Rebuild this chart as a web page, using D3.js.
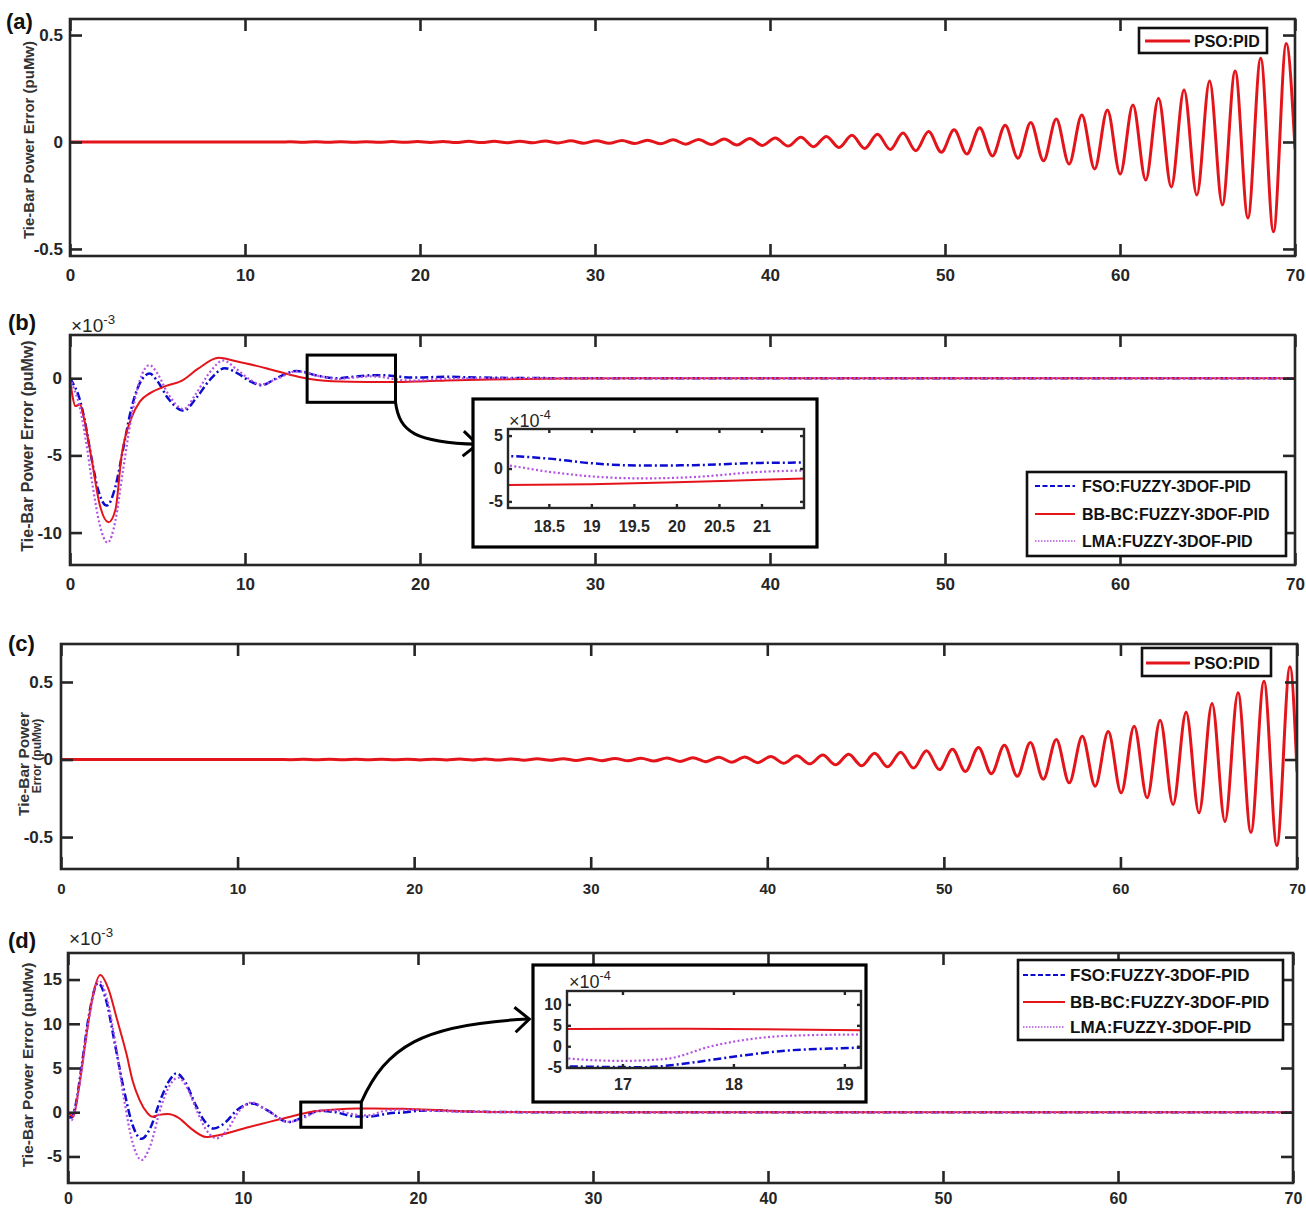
<!DOCTYPE html>
<html><head><meta charset="utf-8">
<script src="https://cdn.jsdelivr.net/npm/d3@7"></script>
<style>
body{margin:0;background:#fff}
svg{display:block}
text{font-family:"Liberation Sans",Arial,Helvetica,sans-serif}
</style>
</head><body>
<svg id="c" width="1306" height="1210"></svg>
<script>
// ---------------- DATA ----------------
const xTicks = [0,10,20,30,40,50,60,70];
const yTicksA = [-0.5,0,0.5];
const yTicksB = [-10,-5,0];          // x1e-3
const yTicksC = [-0.5,0,0.5];
const yTicksD = [-5,0,5,10,15];      // x1e-3
const insetXTicksB = [18.5,19,19.5,20,20.5,21];
const insetYTicksB = [-0.5,0,0.5];   // x1e-3 (shown as x1e-4)
const insetXTicksD = [17,18,19];
const insetYTicksD = [-0.5,0,0.5,1.0]; // x1e-3 (shown as x1e-4)
const legendPSO = ["PSO:PID"];
const legend3 = ["FSO:FUZZY-3DOF-PID","BB-BC:FUZZY-3DOF-PID","LMA:FUZZY-3DOF-PID"];

// (a) PSO:PID  [time s, error puMw] — extrema
const psoA = [[0,0],[12,0],
[12.56,0.001],[13.29,-0.001],[14.02,0.0011],[14.75,-0.0011],[15.48,0.0013],[16.21,-0.0013],
[16.94,0.0015],[17.67,-0.0015],[18.4,0.0018],[19.13,-0.0017],[19.86,0.0021],[20.59,-0.002],
[21.32,0.0025],[22.05,-0.0024],[22.78,0.0029],[23.51,-0.0028],[24.24,0.0034],[24.97,-0.0033],
[25.7,0.0039],[26.43,-0.0038],[27.16,0.0046],[27.89,-0.0045],[28.62,0.0054],[29.35,-0.0053],
[30.08,0.0063],[30.81,-0.0062],[31.54,0.0074],[32.27,-0.0073],[33.0,0.0087],[33.73,-0.0086],
[34.46,0.010],[35.19,-0.010],[35.92,0.012],[36.65,-0.012],[37.38,0.014],[38.11,-0.014],
[38.84,0.016],[39.57,-0.016],[40.3,0.019],[41.03,-0.019],[41.76,0.022],[42.49,-0.022],
[43.22,0.026],[43.95,-0.026],[44.68,0.031],[45.41,-0.030],[46.14,0.036],[46.87,-0.035],
[47.6,0.042],[48.33,-0.041],[49.06,0.049],[49.79,-0.048],[50.52,0.057],[51.25,-0.056],
[51.98,0.067],[52.71,-0.065],[53.44,0.078],[54.17,-0.076],[54.9,0.091],[55.63,-0.088],
[56.36,0.107],[57.09,-0.103],[57.82,0.126],[58.55,-0.126],[59.28,0.150],[60.01,-0.150],
[60.74,0.173],[61.47,-0.178],[62.2,0.205],[62.93,-0.21],[63.66,0.243],[64.39,-0.248],
[65.12,0.285],[65.85,-0.294],[66.58,0.332],[67.31,-0.355],[68.04,0.392],[68.77,-0.42],
[69.5,0.46],[70,-0.03]];

// (c) PSO:PID
const psoC = [[0,0],[11.5,0],
[12.27,0.0009],[13.0,-0.001],[13.74,0.001],[14.47,-0.0012],[15.21,0.0012],[15.94,-0.0014],
[16.68,0.0014],[17.41,-0.0016],[18.15,0.0017],[18.88,-0.0019],[19.62,0.002],[20.35,-0.0023],
[21.09,0.0023],[21.82,-0.0027],[22.56,0.0027],[23.29,-0.0032],[24.03,0.0032],[24.76,-0.0037],
[25.5,0.0038],[26.23,-0.0044],[26.97,0.0045],[27.7,-0.0052],[28.44,0.0053],[29.17,-0.0062],
[29.91,0.0063],[30.64,-0.0073],[31.38,0.0074],[32.11,-0.0086],[32.85,0.0088],[33.58,-0.010],
[34.32,0.010],[35.05,-0.012],[35.79,0.012],[36.52,-0.014],[37.26,0.015],[37.99,-0.017],
[38.73,0.017],[39.46,-0.020],[40.2,0.020],[40.93,-0.024],[41.67,0.024],[42.4,-0.028],
[43.14,0.029],[43.87,-0.034],[44.61,0.034],[45.34,-0.040],[46.08,0.040],[46.81,-0.047],
[47.55,0.047],[48.28,-0.055],[49.02,0.056],[49.75,-0.065],[50.49,0.066],[51.22,-0.077],
[51.96,0.078],[52.69,-0.091],[53.43,0.092],[54.16,-0.108],[54.9,0.109],[55.63,-0.127],
[56.37,0.129],[57.1,-0.15],[57.84,0.15],[58.57,-0.172],[59.31,0.18],[60.04,-0.215],
[60.78,0.215],[61.51,-0.247],[62.25,0.254],[62.98,-0.29],[63.72,0.305],[64.45,-0.344],
[65.19,0.361],[65.92,-0.40],[66.66,0.43],[67.39,-0.47],[68.13,0.505],[68.86,-0.555],
[69.6,0.598],[70,-0.075]];

// (b) values in units of 1e-3 puMw
const fsoB = [[0,0],[0.2,-0.4],[0.45,-1.0],[0.8,-2.5],[1.2,-5.0],[1.6,-7.2],[2.1,-8.25],[2.6,-7.0],
[3.0,-4.8],[3.5,-2.0],[4.0,-0.3],[4.55,0.3],[5.0,-0.2],[5.6,-1.3],[6.5,-2.1],[7.2,-1.3],[8.0,-0.1],
[8.85,0.65],[9.6,0.3],[10.3,-0.2],[10.95,-0.45],[11.8,0],[12.95,0.47],[14.2,0.15],[15.3,0.0],
[16.2,0.1],[17.4,0.2],[18.0,0.19],[18.5,0.15],[19.0,0.08],[19.6,0.045],[20.2,0.05],[21.0,0.085],
[21.6,0.09],[22.5,0.07],[25,0.02],[30,0],[70,0]];
const bbbcB = [[0,0],[0.15,-1.2],[0.3,-1.8],[0.57,-1.7],[0.8,-2.6],[1.2,-5.0],[1.7,-8.2],[2.2,-9.33],
[2.6,-8.5],[2.95,-5.0],[3.5,-2.6],[4.0,-1.5],[4.6,-0.95],[5.5,-0.5],[6.4,-0.15],[7.3,0.6],[8.5,1.32],
[9.5,1.1],[11.2,0.65],[13.1,0.08],[15.0,-0.2],[17,-0.25],[18.0,-0.25],[19,-0.24],[20,-0.21],
[21,-0.17],[21.5,-0.15],[24,-0.08],[28,-0.02],[32,0],[70,0]];
const lmaB = [[0,0],[0.2,-0.6],[0.5,-1.6],[0.9,-4.0],[1.3,-7.0],[1.7,-9.5],[2.15,-10.65],[2.6,-9.2],
[3.0,-6.2],[3.5,-2.6],[4.0,-0.1],[4.55,0.85],[5.0,0.3],[5.6,-1.0],[6.5,-2.0],[7.2,-1.0],[8.0,0.4],
[8.75,1.15],[9.5,0.6],[10.3,-0.1],[10.9,-0.4],[11.8,-0.05],[12.95,0.45],[14.2,0.15],[15.3,-0.05],
[16.3,0.05],[17.2,0.12],[18.0,0.05],[18.5,-0.05],[19.0,-0.12],[19.6,-0.15],[20.2,-0.13],[21.0,-0.05],
[21.5,-0.03],[23,0],[30,0],[70,0]];

// (d) values in units of 1e-3 puMw
const fsoD = [[0,-0.5],[0.2,-0.6],[0.4,0.5],[0.8,5.5],[1.2,11.0],[1.72,14.6],[2.2,12.5],[2.7,7.5],
[3.2,2.5],[3.7,-1.5],[4.2,-3.0],[4.7,-1.8],[5.3,1.5],[5.8,3.6],[6.2,4.4],[6.7,3.4],[7.3,0.8],
[7.8,-1.0],[8.3,-1.85],[8.9,-1.3],[9.7,0.3],[10.5,1.0],[11.4,0.2],[12.6,-1.1],[13.5,-0.5],
[14.3,0.15],[15.3,0.0],[16.0,-0.35],[16.5,-0.48],[17.2,-0.5],[17.6,-0.4],[18.0,-0.25],[18.5,-0.1],
[19.15,-0.03],[20,0.15],[21,0.2],[22.5,0.1],[25,0.02],[28,0],[70,0]];
const bbbcD = [[0,0],[0.15,-0.3],[0.3,-0.5],[0.6,2.5],[1.0,8.0],[1.4,13.0],[1.85,15.5],[2.3,14.0],
[2.8,10.5],[3.34,6.6],[3.7,3.5],[4.1,1.35],[4.5,0.0],[4.8,-0.5],[5.2,-0.3],[5.7,-0.2],[6.3,-0.6],
[7.0,-1.8],[7.9,-2.8],[8.6,-2.6],[10.3,-1.7],[12.2,-0.75],[14.1,0.1],[15.5,0.35],[16.5,0.41],
[17.5,0.42],[18.5,0.4],[19.15,0.38],[20,0.33],[22,0.15],[25,0.03],[28,0],[70,0]];
const lmaD = [[0,-0.6],[0.2,-0.9],[0.4,0.2],[0.8,5.0],[1.2,10.5],[1.75,14.9],[2.2,13.0],[2.7,8.0],
[3.2,1.5],[3.7,-3.5],[4.2,-5.4],[4.7,-3.8],[5.3,0.5],[5.8,3.0],[6.3,3.9],[6.8,2.8],[7.4,0.0],
[7.9,-2.0],[8.5,-2.95],[9.1,-2.0],[9.8,0.2],[10.5,1.1],[11.4,0.2],[12.6,-1.1],[13.5,-0.6],
[14.5,0.2],[15.4,0.2],[16.0,-0.1],[16.5,-0.29],[17.0,-0.35],[17.4,-0.3],[17.8,0.0],[18.5,0.25],
[19.15,0.28],[20,0.25],[21,0.15],[23,0.05],[26,0],[70,0]];

// ---------------- STYLE ----------------
const INK = '#262626';
const RED = '#e4141b', BLUE = '#0c0cd0', PURPLE = '#b452e4';
const DASHDOT = '8,3,2,3', DOT = '2,2.4';
const svg = d3.select('#c');
const defs = svg.append('defs');

function styleAxis(a, w, fs){
  a.select('.domain').remove();
  a.selectAll('line').attr('stroke', INK).attr('stroke-width', w);
  a.selectAll('text').attr('font-size', fs).attr('font-weight','bold').attr('fill', INK);
}

function drawPanel(p){
  const x = d3.scaleLinear().domain(p.xDom).range([p.left, p.right]);
  const y = d3.scaleLinear().domain(p.yDom).range([p.bottom, p.top]);
  const g = svg.append('g');
  const cid = 'clip-' + p.id;
  defs.append('clipPath').attr('id', cid).append('rect')
    .attr('x', p.left).attr('y', p.top).attr('width', p.right - p.left).attr('height', p.bottom - p.top);
  const line = d3.line().x(d => x(d[0])).y(d => y(d[1])).curve(d3.curveMonotoneX);
  p.series.forEach(s => {
    g.append('path').datum(s.data).attr('d', line).attr('fill','none')
      .attr('stroke', s.color).attr('stroke-width', s.width)
      .attr('stroke-dasharray', s.dash || null)
      .attr('stroke-linejoin','round').attr('stroke-linecap', s.dash ? 'butt' : 'round')
      .attr('clip-path', `url(#${cid})`);
  });
  const T = p.tick, W = p.axisW;
  styleAxis(g.append('g').attr('transform', `translate(0,${p.bottom})`)
    .call(d3.axisBottom(x).tickValues(p.xTicks).tickSizeInner(-T).tickSizeOuter(0)
      .tickPadding(p.xPad).tickFormat(p.xFmt)), W, p.xFs);
  styleAxis(g.append('g').attr('transform', `translate(0,${p.top})`)
    .call(d3.axisTop(x).tickValues(p.xTicks).tickSizeInner(-T).tickSizeOuter(0).tickFormat(() => '')), W, 0);
  styleAxis(g.append('g').attr('transform', `translate(${p.left},0)`)
    .call(d3.axisLeft(y).tickValues(p.yTicks).tickSizeInner(-T).tickSizeOuter(0)
      .tickPadding(p.yPad).tickFormat(p.yFmt)), W, p.yFs);
  styleAxis(g.append('g').attr('transform', `translate(${p.right},0)`)
    .call(d3.axisRight(y).tickValues(p.yTicks).tickSizeInner(-T).tickSizeOuter(0).tickFormat(() => '')), W, 0);
  g.append('rect').attr('x', p.left).attr('y', p.top).attr('width', p.right - p.left)
    .attr('height', p.bottom - p.top).attr('fill','none').attr('stroke', INK).attr('stroke-width', W);
  return {x, y, g};
}

const numFmt = d => String(d);
const intFmt = d => String(d);

function panelLabel(txt, x, y){
  svg.append('text').attr('x', x).attr('y', y).attr('font-size', 22).attr('font-weight','bold')
    .attr('fill', '#111').text(txt);
}
function yLabel(lines){
  lines.forEach(l => {
    svg.append('text').attr('transform', `translate(${l.x},${l.y}) rotate(-90)`)
      .attr('text-anchor','middle').attr('font-size', l.fs).attr('font-weight','bold')
      .attr('fill', '#333').text(l.t);
  });
}
function multiplier(x, y, exp, fs){
  const t = svg.append('text').attr('x', x).attr('y', y).attr('font-size', fs).attr('fill', INK);
  t.append('tspan').text('\u00d710');
  t.append('tspan').attr('dy', -fs*0.42).attr('font-size', fs*0.7).text(exp);
}
function legend(box, rows, entries, fs){
  svg.append('rect').attr('x', box.x).attr('y', box.y).attr('width', box.w).attr('height', box.h)
    .attr('fill','#fff').attr('stroke', '#111').attr('stroke-width', 2.6);
  entries.forEach((e, i) => {
    const yy = rows.y[i];
    svg.append('line').attr('x1', rows.x1).attr('x2', rows.x2).attr('y1', yy).attr('y2', yy)
      .attr('stroke', e.color).attr('stroke-width', e.width).attr('stroke-dasharray', e.dash || null);
    svg.append('text').attr('x', rows.tx).attr('y', yy).attr('dy', '0.36em')
      .attr('font-size', fs).attr('font-weight','bold').attr('fill', '#111').text(e.label);
  });
}
function arrowHead(tip, ang, len, spread){
  const a1 = ang + Math.PI - spread, a2 = ang + Math.PI + spread;
  svg.append('path')
    .attr('d', `M${tip[0]+len*Math.cos(a1)},${tip[1]+len*Math.sin(a1)} L${tip[0]},${tip[1]} L${tip[0]+len*Math.cos(a2)},${tip[1]+len*Math.sin(a2)}`)
    .attr('fill','none').attr('stroke','#000').attr('stroke-width', 3).attr('stroke-linejoin','miter');
}

// ---------------- PANEL (a) ----------------
drawPanel({id:'a', left:70, right:1295, top:19, bottom:256, xDom:[0,70], yDom:[-0.533,0.575],
  xTicks, yTicks:yTicksA, xFmt:intFmt, yFmt:numFmt, xPad:12.5, yPad:7, xFs:17, yFs:17, tick:12, axisW:2.6,
  series:[{data:psoA, color:RED, width:3}]});
panelLabel('(a)', 6, 29);
yLabel([{t:'Tie-Bar Power Error (puMw)', x:33.5, y:140, fs:15}]);
legend({x:1139, y:28, w:128, h:25}, {x1:1145, x2:1190, tx:1194, y:[41]},
  [{label:legendPSO[0], color:RED, width:3}], 16);

// ---------------- PANEL (b) ----------------
const pb = drawPanel({id:'b', left:70, right:1295, top:335, bottom:565, xDom:[0,70], yDom:[-12.1,2.8],
  xTicks, yTicks:yTicksB, xFmt:intFmt, yFmt:intFmt, xPad:13, yPad:8, xFs:17, yFs:17, tick:12, axisW:2.6,
  series:[{data:fsoB, color:BLUE, width:2.5, dash:DASHDOT},{data:bbbcB, color:RED, width:2},
          {data:lmaB, color:PURPLE, width:2.2, dash:DOT}]});
panelLabel('(b)', 8, 330);
yLabel([{t:'Tie-Bar Power Error (puMw)', x:33, y:446, fs:16}]);
multiplier(71, 332, '-3', 19);
// zoom box + arrow
const bx0 = pb.x(13.55), bx1 = pb.x(18.6), by0 = pb.y(1.5), by1 = pb.y(-1.56);
svg.append('rect').attr('x', bx0).attr('y', by0).attr('width', bx1-bx0).attr('height', by1-by0)
  .attr('fill','none').attr('stroke','#000').attr('stroke-width', 3);
svg.append('path').attr('d', `M${bx1},${by1} C${bx1+4},${by1+30} ${bx1+20},${by1+40} ${bx1+82},${by1+42}`)
  .attr('fill','none').attr('stroke','#000').attr('stroke-width', 3);
arrowHead([bx1+82, by1+42], 0.05, 19, 0.72);
// inset (b)
svg.append('rect').attr('x', 473).attr('y', 399).attr('width', 344).attr('height', 148)
  .attr('fill','#fff').attr('stroke','#000').attr('stroke-width', 3.2);
drawPanel({id:'bi', left:508, right:804, top:429, bottom:508, xDom:[18.02,21.5], yDom:[-0.6,0.6],
  xTicks:insetXTicksB, yTicks:insetYTicksB, xFmt:numFmt, yFmt:d => String(Math.round(d*10)),
  xPad:13, yPad:5, xFs:16, yFs:16, tick:4, axisW:2.4,
  series:[{data:fsoB, color:BLUE, width:2.5, dash:DASHDOT},{data:bbbcB, color:RED, width:2},
          {data:lmaB, color:PURPLE, width:2.2, dash:DOT}]});
multiplier(509, 427, '-4', 18);
legend({x:1027, y:472, w:259, h:84}, {x1:1035, x2:1075, tx:1082, y:[486,514,541]},
  [{label:legend3[0], color:BLUE, width:2, dash:'5,2.5'},{label:legend3[1], color:RED, width:2},
   {label:legend3[2], color:PURPLE, width:1.6, dash:'1.5,1.5'}], 16);

// ---------------- PANEL (c) ----------------
drawPanel({id:'c', left:61, right:1297, top:644, bottom:869, xDom:[0,70], yDom:[-0.706,0.745],
  xTicks, yTicks:yTicksC, xFmt:intFmt, yFmt:numFmt, xPad:14, yPad:8, xFs:15, yFs:17, tick:12, axisW:2.6,
  series:[{data:psoC, color:RED, width:3}]});
panelLabel('(c)', 8, 651);
yLabel([{t:'Tie-Bar Power', x:28.6, y:764, fs:15.5},{t:'Error (puMw)', x:41.3, y:756, fs:12}]);
legend({x:1142, y:648, w:129, h:28}, {x1:1146, x2:1190, tx:1194, y:[663]},
  [{label:legendPSO[0], color:RED, width:3}], 16);

// ---------------- PANEL (d) ----------------
const pd = drawPanel({id:'d', left:68, right:1293, top:953, bottom:1183, xDom:[0,70], yDom:[-8,18],
  xTicks, yTicks:yTicksD, xFmt:intFmt, yFmt:intFmt, xPad:10, yPad:6, xFs:16, yFs:17, tick:12, axisW:2.6,
  series:[{data:fsoD, color:BLUE, width:2.5, dash:DASHDOT},{data:bbbcD, color:RED, width:2},
          {data:lmaD, color:PURPLE, width:2.2, dash:DOT}]});
panelLabel('(d)', 8, 948);
yLabel([{t:'Tie-Bar Power Error (puMw)', x:32.6, y:1065, fs:15.5}]);
multiplier(69, 945, '-3', 19);
const dx0 = pd.x(13.3), dx1 = pd.x(16.76), dy0 = pd.y(1.15), dy1 = pd.y(-1.7);
svg.append('rect').attr('x', dx0).attr('y', dy0).attr('width', dx1-dx0).attr('height', dy1-dy0)
  .attr('fill','none').attr('stroke','#000').attr('stroke-width', 3);
svg.append('path').attr('d', `M${dx1},${dy0} C${dx1+25},${dy0-55} ${dx1+60},${dy0-78} ${dx1+167},${dy0-83}`)
  .attr('fill','none').attr('stroke','#000').attr('stroke-width', 3);
arrowHead([dx1+168, dy0-83], -0.05, 19, 0.72);
// inset (d)
svg.append('rect').attr('x', 533).attr('y', 965).attr('width', 333).attr('height', 137)
  .attr('fill','#fff').attr('stroke','#000').attr('stroke-width', 3.2);
drawPanel({id:'di', left:567, right:861, top:991, bottom:1068, xDom:[16.5,19.15], yDom:[-0.52,1.32],
  xTicks:insetXTicksD, yTicks:insetYTicksD, xFmt:numFmt, yFmt:d => String(Math.round(d*10)),
  xPad:11, yPad:5, xFs:16, yFs:16, tick:4, axisW:2.4,
  series:[{data:fsoD, color:BLUE, width:2.5, dash:DASHDOT},{data:bbbcD, color:RED, width:2},
          {data:lmaD, color:PURPLE, width:2.2, dash:DOT}]});
multiplier(569, 988, '-4', 18);
legend({x:1018, y:960, w:265, h:80}, {x1:1023, x2:1065, tx:1070, y:[975,1002,1027]},
  [{label:legend3[0], color:BLUE, width:2, dash:'5,2.5'},{label:legend3[1], color:RED, width:2},
   {label:legend3[2], color:PURPLE, width:1.6, dash:'1.5,1.5'}], 17);
</script>
</body></html>
